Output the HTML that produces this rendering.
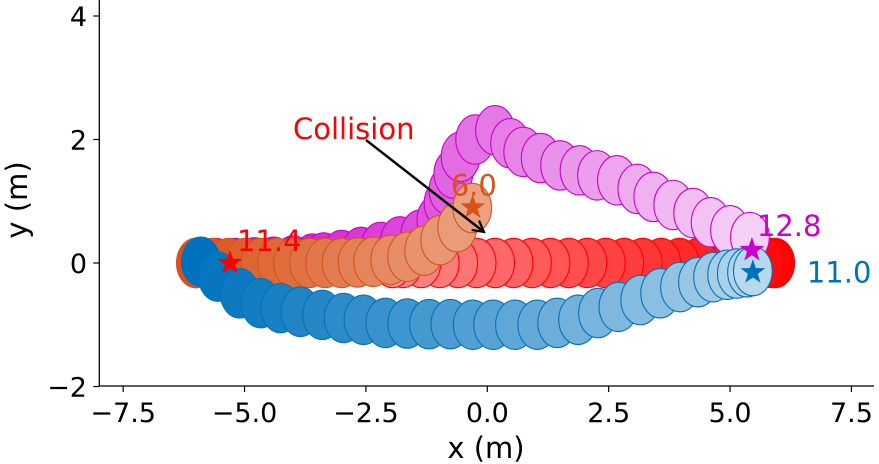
<!DOCTYPE html>
<html><head><meta charset="utf-8"><style>
body{margin:0;background:#fff;}
svg{display:block;font-family:"DejaVu Sans","Liberation Sans",sans-serif;}
</style></head><body>
<svg id="chart" width="879" height="464" viewBox="0 0 879 464" xmlns="http://www.w3.org/2000/svg">
<defs><marker id="ah" markerWidth="14" markerHeight="14" refX="12" refY="7" orient="auto" markerUnits="userSpaceOnUse"><path d="M1,1 L12,7 L1,13" fill="none" stroke="#000" stroke-width="2.2"/></marker></defs>
<g id="marks"></g>
<g id="axes"></g>
</svg>
<script>
const xTicks = [-7.5, -5.0, -2.5, 0.0, 2.5, 5.0, 7.5];
const yTicks = [-2, 0, 2, 4];
const redX = [5.93,5.85,5.7,5.45,5.1,4.72,4.34,3.96,3.58,3.2,2.82,2.44,2.06,1.68,1.3,0.92,0.54,0.16,-0.22,-0.6,-0.98,-1.36,-1.74,-1.95];
const redY = [0,0,0,0,0,0,0,0,0,0,0,0,0,0,0,0,0,0,0,0,0,0,0,0];
const magX = [-6,-5.6,-5.2,-4.8,-4.4,-4.0,-3.6,-3.37,-3.0,-2.6,-2.2,-1.8,-1.38,-1.05,-0.9,-0.8,-0.7,-0.55,-0.25,0.16,0.47,0.74,1.1,1.5,1.9,2.26,2.67,3.09,3.42,3.83,4.24,4.6,5.0,5.41];
const magY = [0,0,0,0.01,0.02,0.04,0.07,0.09,0.13,0.18,0.26,0.35,0.46,0.7,0.97,1.18,1.45,1.72,2.0,2.15,1.94,1.8,1.7,1.58,1.5,1.42,1.34,1.2,1.07,0.94,0.81,0.66,0.53,0.42];
const orgX = [-6,-5.67,-5.33,-5.0,-4.67,-4.33,-4.0,-3.67,-3.34,-3.0,-2.67,-2.35,-2.0,-1.65,-1.3,-0.97,-0.62,-0.31];
const orgY = [0,0,0,0,0,0,0,0,0,0,0.01,0.02,0.05,0.1,0.2,0.37,0.58,0.89];
const bluX = [-5.9,-5.55,-5.1,-4.67,-4.26,-3.85,-3.4,-2.96,-2.55,-2.1,-1.65,-1.2,-0.76,-0.3,0.12,0.57,1.03,1.44,1.87,2.28,2.7,3.15,3.56,3.97,4.34,4.65,4.94,5.14,5.35,5.47];
const bluY = [0.02,-0.22,-0.49,-0.65,-0.73,-0.79,-0.84,-0.89,-0.92,-0.97,-0.98,-0.99,-0.99,-1.0,-1.0,-1.0,-1.0,-0.97,-0.92,-0.81,-0.71,-0.6,-0.49,-0.39,-0.31,-0.23,-0.19,-0.17,-0.15,-0.13];
const starX = [-5.3, -0.3, 5.45, 5.47];
const starY = [0.0, 0.9, 0.21, -0.15];
const labels = ["11.4", "6.0", "12.8", "11.0"];

const NS = "http://www.w3.org/2000/svg";
const X0 = 99.3, X1 = 874, Y0 = 386, YT = 0;
function sx(v){ return 487.3 + v * 48.55; }
function sy(v){ return 263 - v * 61.75; }
function mk(tag, attrs, parent){ const e = document.createElementNS(NS, tag); for (const k in attrs) e.setAttribute(k, attrs[k]); parent.appendChild(e); return e; }
function mix(c, f){ return 'rgb(' + c.map(v => Math.round(v + (255 - v) * f)).join(',') + ')'; }
const marks = document.getElementById('marks');
const axes = document.getElementById('axes');

function series(xs, ys, col, edge, fadeMax, name){
  const g = mk('g', {}, marks);
  
  
  const n = xs.length;
  for (let i = 0; i < n; i++){
    const e = mk('ellipse', {cx: sx(xs[i]), cy: sy(ys[i]), rx: 19.4, ry: 24.7, fill: mix(col, fadeMax * i / (n - 1)), stroke: edge, 'stroke-width': 1.1}, g);
    
    
  }
}
series(redX, redY, [255,0,0], '#ff0000', 0.55, 'red-agent');
series(magX, magY, [204,0,204], '#cc00cc', 0.82, 'magenta-agent');
series(orgX, orgY, [217,83,25], '#d95319', 0.45, 'orange-agent');
series(bluX, bluY, [0,114,189], '#0072bd', 0.72, 'blue-agent');

const starCols = ['#ff0000', '#d95319', '#cc00cc', '#0072bd'];
const starNames = ['red', 'orange', 'magenta', 'blue'];
const labOff = [[7, -22, 'start'], [-22, -22, 'start'], [5, -24, 'start'], [54, 0, 'start']];
function starPath(cx, cy, r){
  let d = '';
  for (let i = 0; i < 10; i++){
    const a = -Math.PI / 2 + i * Math.PI / 5;
    const rr = i % 2 ? r * 0.4 : r;
    d += (i ? 'L' : 'M') + (cx + rr * Math.cos(a)).toFixed(1) + ',' + (cy + rr * Math.sin(a)).toFixed(1);
  }
  return d + 'Z';
}
for (let i = 0; i < starX.length; i++){
  const s = mk('path', {d: starPath(sx(starX[i]), sy(starY[i]), 13), fill: starCols[i]}, marks);
  
  
  const t = mk('text', {x: sx(starX[i]) + labOff[i][0], y: sy(starY[i]) + labOff[i][1] + 10, fill: starCols[i], 'font-size': 29}, marks);
  t.textContent = labels[i];
  
  
}
const ar = mk('line', {x1: 366, y1: 140, x2: 484, y2: 232, stroke: '#000', 'stroke-width': 2.4, 'marker-end': 'url(#ah)'}, marks);


const ct = mk('text', {x: 293, y: 139, fill: '#ff0000', 'font-size': 29}, marks);
ct.textContent = 'Collision';



// axes
const la = mk('line', {x1: X0, y1: YT, x2: X0, y2: Y0, stroke: '#000', 'stroke-width': 1.3}, axes);


const ba = mk('line', {x1: X0, y1: Y0, x2: X1, y2: Y0, stroke: '#000', 'stroke-width': 1.3}, axes);


xTicks.forEach(v => {
  const tk = mk('line', {x1: sx(v), y1: Y0, x2: sx(v), y2: Y0 + 6, stroke: '#000', 'stroke-width': 1.2}, axes);
  
  
  const t = mk('text', {x: sx(v), y: 422, 'text-anchor': 'middle', 'font-size': 27}, axes);
  t.textContent = v.toFixed(1).replace('-', '\u2212');
  
  
});
yTicks.forEach(v => {
  const tk = mk('line', {x1: X0 - 6, y1: sy(v), x2: X0, y2: sy(v), stroke: '#000', 'stroke-width': 1.2}, axes);
  
  
  const t = mk('text', {x: 87, y: sy(v) + 10, 'text-anchor': 'end', 'font-size': 27}, axes);
  t.textContent = String(v).replace('-', '\u2212');
  
  
});
const xl = mk('text', {x: 486, y: 458, 'text-anchor': 'middle', 'font-size': 29}, axes);
xl.textContent = 'x (m)';


const yl = mk('text', {x: 0, y: 0, 'text-anchor': 'middle', 'font-size': 29, transform: 'translate(27,200) rotate(-90)'}, axes);
yl.textContent = 'y (m)';


</script>
</body></html>
